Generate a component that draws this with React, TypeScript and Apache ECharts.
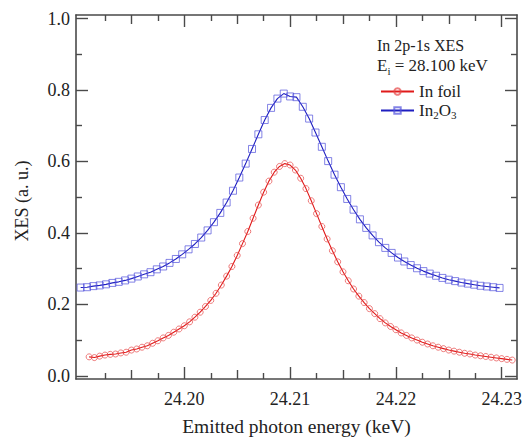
import React, { useEffect, useRef } from "react";
import * as echarts from "echarts";

// Emitted photon energy grids (keV)
const inFoilEnergy = [
  24.1910, 24.1915, 24.1920, 24.1925, 24.1930, 24.1935, 24.1940, 24.1945, 24.1950, 24.1955,
  24.1960, 24.1965, 24.1970, 24.1975, 24.1980, 24.1985, 24.1990, 24.1995, 24.2000, 24.2005,
  24.2010, 24.2015, 24.2020, 24.2025, 24.2030, 24.2035, 24.2040, 24.2045, 24.2050, 24.2055,
  24.2060, 24.2065, 24.2070, 24.2075, 24.2080, 24.2085, 24.2090, 24.2095, 24.2100, 24.2105,
  24.2110, 24.2115, 24.2120, 24.2125, 24.2130, 24.2135, 24.2140, 24.2145, 24.2150, 24.2155,
  24.2160, 24.2165, 24.2170, 24.2175, 24.2180, 24.2185, 24.2190, 24.2195, 24.2200, 24.2205,
  24.2210, 24.2215, 24.2220, 24.2225, 24.2230, 24.2235, 24.2240, 24.2245, 24.2250, 24.2255,
  24.2260, 24.2265, 24.2270, 24.2275, 24.2280, 24.2285, 24.2290, 24.2295, 24.2300, 24.2305,
  24.2310,
];
const inFoilXes = [
  0.053, 0.051, 0.055, 0.058, 0.060, 0.061, 0.064, 0.066, 0.072, 0.075,
  0.080, 0.084, 0.091, 0.098, 0.106, 0.113, 0.122, 0.131, 0.140, 0.151,
  0.164, 0.178, 0.194, 0.211, 0.231, 0.254, 0.279, 0.306, 0.337, 0.370,
  0.404, 0.441, 0.478, 0.514, 0.545, 0.570, 0.586, 0.594, 0.590, 0.576,
  0.553, 0.524, 0.490, 0.454, 0.418, 0.383, 0.350, 0.319, 0.291, 0.266,
  0.243, 0.223, 0.205, 0.188, 0.174, 0.160, 0.148, 0.138, 0.129, 0.120,
  0.113, 0.106, 0.100, 0.094, 0.089, 0.084, 0.080, 0.076, 0.072, 0.069,
  0.066, 0.063, 0.061, 0.058, 0.056, 0.054, 0.052, 0.050, 0.048, 0.046,
  0.044,
];
const in2o3Energy = [
  24.1902, 24.1908, 24.1914, 24.1920, 24.1926, 24.1932, 24.1938, 24.1944, 24.1950, 24.1956,
  24.1962, 24.1968, 24.1974, 24.1980, 24.1986, 24.1992, 24.1998, 24.2004, 24.2010, 24.2016,
  24.2022, 24.2028, 24.2034, 24.2040, 24.2046, 24.2052, 24.2058, 24.2064, 24.2070, 24.2076,
  24.2082, 24.2088, 24.2094, 24.2100, 24.2106, 24.2112, 24.2118, 24.2124, 24.2130, 24.2136,
  24.2142, 24.2148, 24.2154, 24.2160, 24.2166, 24.2172, 24.2178, 24.2184, 24.2190, 24.2196,
  24.2202, 24.2208, 24.2214, 24.2220, 24.2226, 24.2232, 24.2238, 24.2244, 24.2250, 24.2256,
  24.2262, 24.2268, 24.2274, 24.2280, 24.2286, 24.2292, 24.2298,
];
const in2o3Xes = [
  0.247, 0.248, 0.251, 0.253, 0.256, 0.260, 0.263, 0.267, 0.272, 0.278,
  0.284, 0.290, 0.298, 0.306, 0.316, 0.327, 0.340, 0.354, 0.369, 0.387,
  0.407, 0.430, 0.456, 0.485, 0.518, 0.555, 0.594, 0.635, 0.676, 0.716,
  0.750, 0.776, 0.790, 0.782, 0.780, 0.753, 0.720, 0.681, 0.641, 0.601,
  0.563, 0.528, 0.495, 0.465, 0.438, 0.414, 0.393, 0.374, 0.358, 0.344,
  0.331, 0.320, 0.310, 0.301, 0.293, 0.286, 0.280, 0.274, 0.269, 0.265,
  0.261, 0.258, 0.255, 0.252, 0.250, 0.248, 0.246,
];

// Axis ticks
const xMajorTicks = [24.2, 24.21, 24.22, 24.23];
const xMidTicks = [24.195, 24.205, 24.215, 24.225];
const xMinorTicks = [24.1925, 24.1975, 24.2025, 24.2075, 24.2125, 24.2175, 24.2225, 24.2275];
const yMajorTicks = [0, 0.2, 0.4, 0.6, 0.8, 1.0];
const yMinorTicks = [0.1, 0.3, 0.5, 0.7, 0.9];

const X_MIN = 24.18976;
const X_MAX = 24.23145;
const Y_MIN = -0.009;
const Y_MAX = 1.010;

const FONT = "Liberation Serif";
const AXIS_COLOR = "#4a4a4a";
const TEXT_COLOR = "#222";

function xAxisDef(position: string, ticks: number[], len: number, labels: boolean, line: boolean, name?: string) {
  return {
    type: "value",
    position,
    min: X_MIN,
    max: X_MAX,
    name: name || "",
    nameLocation: "middle",
    nameGap: 37,
    nameMoveOverlap: false,
    nameTextStyle: { fontFamily: FONT, fontSize: 19.5, color: TEXT_COLOR },
    axisLine: { show: line, onZero: false, lineStyle: { color: AXIS_COLOR, width: 1.6 } },
    axisTick: { show: true, inside: true, length: len, customValues: ticks, lineStyle: { color: AXIS_COLOR, width: 1.4 } },
    axisLabel: labels
      ? {
          show: true,
          customValues: ticks,
          margin: 11,
          fontFamily: FONT,
          fontSize: 18,
          color: TEXT_COLOR,
          formatter: (v: number) => v.toFixed(2),
        }
      : { show: false },
    splitLine: { show: false },
    minorTick: { show: false },
  };
}

function yAxisDef(position: string, ticks: number[], len: number, labels: boolean, line: boolean) {
  return {
    type: "value",
    position,
    min: Y_MIN,
    max: Y_MAX,
    axisLine: { show: line, onZero: false, lineStyle: { color: AXIS_COLOR, width: 1.6 } },
    axisTick: { show: true, inside: true, length: len, customValues: ticks, lineStyle: { color: AXIS_COLOR, width: 1.4 } },
    axisLabel: labels
      ? {
          show: true,
          customValues: ticks,
          margin: 6,
          fontFamily: FONT,
          fontSize: 18,
          color: TEXT_COLOR,
          formatter: (v: number) => v.toFixed(1),
        }
      : { show: false },
    splitLine: { show: false },
    minorTick: { show: false },
  };
}

export default function App() {
  const ref = useRef<HTMLDivElement>(null);
  useEffect(() => {
    if (!ref.current) return;
    const chart = echarts.init(ref.current, null, { renderer: "svg" });
    const option = {
      animation: false,
      backgroundColor: "#ffffff",
      textStyle: { fontFamily: FONT },
      grid: { left: 76, top: 15, width: 441, height: 370 },
      xAxis: [
        xAxisDef("bottom", xMajorTicks, 12, true, true, "Emitted photon energy (keV)"),
        xAxisDef("bottom", xMidTicks, 9, false, false),
        xAxisDef("bottom", xMinorTicks, 6, false, false),
        xAxisDef("top", xMajorTicks, 12, false, true),
        xAxisDef("top", xMidTicks, 9, false, false),
        xAxisDef("top", xMinorTicks, 6, false, false),
      ],
      yAxis: [
        yAxisDef("left", yMajorTicks, 12, true, true),
        yAxisDef("left", yMinorTicks, 6, false, false),
        yAxisDef("right", yMajorTicks, 12, false, true),
        yAxisDef("right", yMinorTicks, 6, false, false),
      ],
      legend: {
        show: true,
        orient: "vertical",
        left: 375,
        top: 78,
        itemWidth: 33,
        itemHeight: 8,
        itemGap: 2,
        data: ["In foil", "In2O3"],
        formatter: (name: string) => (name === "In2O3" ? "{n|In}{s|2}{n|O}{s|3}" : "{n|" + name + "}"),
        textStyle: {
          fontFamily: FONT,
          fontSize: 17,
          color: TEXT_COLOR,
          rich: {
            n: { fontFamily: FONT, fontSize: 17, lineHeight: 20, color: TEXT_COLOR, verticalAlign: "middle" },
            s: { fontFamily: FONT, fontSize: 11, lineHeight: 11, color: TEXT_COLOR, verticalAlign: "bottom" },
          },
        },
      },
      graphic: [
        {
          type: "text",
          x: 22,
          y: 201,
          rotation: Math.PI / 2,
          style: {
            text: "XES (a. u.)",
            font: "18px 'Liberation Serif'",
            fill: TEXT_COLOR,
            textAlign: "center",
            textVerticalAlign: "middle",
          },
        },
        {
          type: "text",
          left: 377,
          top: 37,
          style: { text: "In 2p-1s XES", font: "16px 'Liberation Serif'", fill: TEXT_COLOR },
        },
        {
          type: "text",
          left: 377,
          top: 57,
          style: {
            text: "{n|E}{s|i}{n| = 28.100 keV}",
            fill: TEXT_COLOR,
            rich: {
              n: { fontFamily: FONT, fontSize: 17, lineHeight: 21, fill: TEXT_COLOR, verticalAlign: "middle" },
              s: { fontFamily: FONT, fontSize: 11, lineHeight: 11, fill: TEXT_COLOR, verticalAlign: "bottom" },
            },
          },
        },
      ],
      series: [
        {
          name: "In foil",
          type: "line",
          xAxisIndex: 0,
          yAxisIndex: 0,
          data: inFoilEnergy.map((x, i) => [x, inFoilXes[i]]),
          symbol: "circle",
          symbolSize: 6,
          showAllSymbol: true,
          lineStyle: { color: "#e01a1a", width: 1.1 },
          itemStyle: { color: "rgba(255,255,255,0)", borderColor: "rgba(230,70,70,0.7)", borderWidth: 1 },
          z: 3,
        },
        {
          name: "In2O3",
          type: "line",
          xAxisIndex: 0,
          yAxisIndex: 0,
          data: in2o3Energy.map((x, i) => [x, in2o3Xes[i]]),
          symbol: "rect",
          symbolSize: 7,
          showAllSymbol: true,
          lineStyle: { color: "#1e1ec0", width: 1.1 },
          itemStyle: { color: "rgba(255,255,255,0)", borderColor: "rgba(80,80,220,0.7)", borderWidth: 1 },
          z: 3,
        },
      ],
    };
    chart.setOption(option as any);
    return () => chart.dispose();
  }, []);
  return (
    <div
      ref={ref}
      style={{ position: "fixed", left: 0, top: 0, width: 525, height: 441, background: "#fff" }}
    />
  );
}
